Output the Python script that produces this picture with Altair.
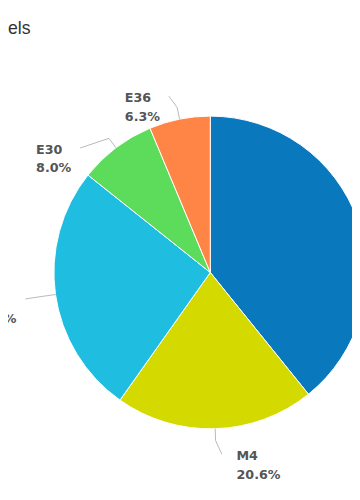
import altair as alt
import pandas as pd
import numpy as np

# ---- data ----
names = ["M3", "M4", "E46", "E30", "E36"]
shares = [39.2, 20.6, 25.9, 8.0, 6.3]
pct_labels = ["39.2%", "20.6%", "25.9%", "8.0%", "6.3%"]
colors = ["#0a78bd", "#d4d900", "#1fbde0", "#5ddc5b", "#fe8545"]
title_text = "els"

# ---- layout / style ----
W, H = 352, 484
CX, CY, R = 207, 265, 160
RL = 185          # label anchor radius
BEND = R + 12     # connector bend radius
SLOT = 53         # vertical slot of a two-line label
FS = 13
LABEL_FONT = "DejaVu Sans"
CHAR_EM = {"E": 0.683, "M": 0.995, ".": 0.380, "%": 1.002}
for d in "0123456789":
    CHAR_EM[d] = 0.696


def text_w(s):
    return sum(CHAR_EM.get(c, 0.7) for c in s) * FS


vals = np.array(shares, dtype=float)
frac = vals / vals.sum()
ends = np.cumsum(frac) * 2 * np.pi
starts = ends - frac * 2 * np.pi
mids = (starts + ends) / 2
sinm, cosm = np.sin(mids), np.cos(mids)
ax = CX + RL * sinm
ay = CY - RL * cosm

label_y = ay.copy()
pushed = np.zeros(len(names), dtype=bool)
left = [i for i in range(len(names)) if sinm[i] < 0]
left.sort(key=lambda i: ay[i])
prev = None
for i in left:
    if prev is not None and label_y[i] < prev + SLOT:
        label_y[i] = prev + SLOT
        pushed[i] = True
    prev = label_y[i]

conn_rows, text_rows = [], []
for i, n in enumerate(names):
    side = 1 if sinm[i] >= 0 else -1
    if pushed[i]:
        dy = label_y[i] - CY
        end_x = CX + side * np.sqrt(max(RL ** 2 - dy ** 2, 0))
    else:
        end_x = ax[i] + side * 6
    end_y = label_y[i] + 1
    pts = [
        (end_x, end_y),
        (CX + BEND * sinm[i], CY - BEND * cosm[i]),
        (CX + R * sinm[i], CY - R * cosm[i]),
    ]
    for k, (px, py) in enumerate(pts):
        conn_rows.append({"name": n, "k": k, "x": px, "y": py})
    box_w = max(text_w(n), text_w(pct_labels[i]))
    if side < 0:
        tx = end_x - 9 - box_w
    else:
        tx = end_x + 15
    text_rows.append({"name": n, "text": n, "x": tx, "y": label_y[i] + 3})
    text_rows.append({"name": n, "text": pct_labels[i], "x": tx, "y": label_y[i] + 22})

slices = pd.DataFrame({"name": names, "share": shares, "idx": list(range(len(names)))})
conn = pd.DataFrame(conn_rows)
texts = pd.DataFrame(text_rows)

xs = alt.Scale(domain=[0, W], range=[0, W], nice=False, zero=False)
ys = alt.Scale(domain=[0, H], range=[0, H], nice=False, zero=False)

arc = alt.Chart(slices).mark_arc(outerRadius=R, stroke="white", strokeWidth=1).encode(
    theta=alt.Theta("share:Q", stack=True),
    color=alt.Color("name:N", scale=alt.Scale(domain=names, range=colors), legend=None),
    order=alt.Order("idx:Q"),
    x=alt.value(CX),
    y=alt.value(CY),
)

lines = alt.Chart(conn).mark_line(color="#b8b8b8", strokeWidth=1).encode(
    x=alt.X("x:Q", scale=xs, axis=None),
    y=alt.Y("y:Q", scale=ys, axis=None),
    detail="name:N",
    order="k:Q",
)

labels = alt.Chart(texts).mark_text(
    align="left", baseline="middle", font=LABEL_FONT, fontWeight="bold",
    fontSize=FS, color="#555555"
).encode(
    x=alt.X("x:Q", scale=xs, axis=None),
    y=alt.Y("y:Q", scale=ys, axis=None),
    text="text:N",
)

title = alt.Chart(pd.DataFrame({"t": [title_text]})).mark_text(
    align="left", baseline="alphabetic", font="Liberation Sans", fontSize=18, color="#333333"
).encode(x=alt.value(0), y=alt.value(21), text="t:N")

chart = alt.layer(arc, lines, labels, title).properties(
    width=W, height=H, padding=0, autosize=alt.AutoSizeParams(type="none")
).configure_view(strokeWidth=0)

chart.save("out.html", embed_options={"renderer": "svg", "actions": False})
